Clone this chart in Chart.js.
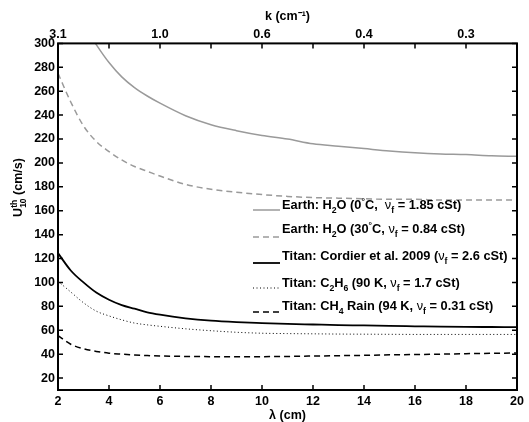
<!DOCTYPE html>
<html><head><meta charset="utf-8">
<script src="https://cdn.jsdelivr.net/npm/chart.js@4.4.0/dist/chart.umd.min.js"></script>
<style>html,body{margin:0;padding:0;background:#fff;overflow:hidden}#wrap{width:529px;height:422px;position:relative}</style>
</head><body><div id="wrap"><canvas id="c" width="529" height="422"></canvas></div>
<script>
// ---- data ----
const lambda = [2,2.5,3,3.5,4,4.5,5,5.5,6,7,8,9,10,11,12,13,14,15,16,17,18,19,20];
const earth0  = [356,334,316,299,284,272,263,256,250,239.5,232,227,223,220,216,214,212,210,208.5,207.5,207,206,205.5];
const earth30 = [275,251,231,218,209.5,202.5,197,193,189,182,178,175.5,173.5,172,171,170.5,170,169.5,169.5,169,169,169,169];
const titanCordier = [124.5,110,100,91.5,85.5,81,78,75,73,70,68,66.8,66,65.3,64.8,64.3,64,63.6,63.3,63,62.8,62.7,62.6];
const titanC2H6 = [101,92,83,76,72,68.7,66,64.5,63.3,61.2,59.6,58.3,57.5,57.2,57,56.8,56.7,56.6,56.5,56.5,56.5,56.5,56.5];
const titanCH4 = [55.5,48.3,44.5,42.3,40.8,40,39.3,38.8,38.5,38.1,37.9,37.8,37.9,38.1,38.4,38.7,39,39.4,39.7,40,40.4,40.7,41];
const seriesLabels = [
  'Earth: H_{2}O (0^{°}C,  ν_{f} = 1.85 cSt)',
  'Earth: H_{2}O (30^{°}C, ν_{f} = 0.84 cSt)',
  'Titan: Cordier et al. 2009 (ν_{f} = 2.6 cSt)',
  'Titan: C_{2}H_{6} (90 K, ν_{f} = 1.7 cSt)',
  'Titan: CH_{4} Rain (94 K, ν_{f} = 0.31 cSt)'
];
const xTicks = [2,4,6,8,10,12,14,16,18,20];
const yTicks = [20,40,60,80,100,120,140,160,180,200,220,240,260,280,300];
const topTickPositions = [2,6,10,14,18];
const topTickLabels = ['3.1','1.0','0.6','0.4','0.3'];
const xTitle = 'λ (cm)';
const topTitle = 'k (cm⁻¹)';
const yTitle = 'U^{th}_{10} (cm/s)';

// ---- styles ----
const FAM = '"Liberation Sans", Arial, Helvetica, sans-serif';
const tickFont = {family: FAM, size: 12.5, weight: 'bold'};
const GRAY = '#9a9a9a';
const styles = [
  {color: GRAY, width: 1.5, dash: []},
  {color: GRAY, width: 1.5, dash: [6,4]},
  {color: '#000', width: 1.8, dash: []},
  {color: '#000', width: 1, dash: [1,2.5]},
  {color: '#000', width: 1.5, dash: [6,4]}
];
const series = [earth0, earth30, titanCordier, titanC2H6, titanCH4];
const legendRows = [
  {lineY: 210, baseY: 209},
  {lineY: 237, baseY: 233},
  {lineY: 263, baseY: 260},
  {lineY: 288, baseY: 286.5},
  {lineY: 312, baseY: 310}
];

function drawRich(ctx, str, x, y, size, weight) {
  const parts = str.split(/(_\{[^}]*\}|\^\{[^}]*\}|ν)/).filter(s => s.length);
  let cx = x, supStart = null, supW = 0, prevSup = false;
  ctx.textBaseline = 'alphabetic';
  ctx.textAlign = 'left';
  for (const p of parts) {
    if (p.startsWith('^{')) {
      const t = p.slice(2, -1);
      ctx.font = weight + ' ' + (size * 0.68) + 'px ' + FAM;
      supStart = cx; supW = ctx.measureText(t).width;
      ctx.fillText(t, cx, y - size * 0.42);
      cx += supW; prevSup = true;
    } else if (p.startsWith('_{')) {
      const t = p.slice(2, -1);
      ctx.font = weight + ' ' + (size * 0.68) + 'px ' + FAM;
      const w = ctx.measureText(t).width;
      let sx = cx;
      if (prevSup) { sx = supStart; }
      ctx.fillText(t, sx, y + size * 0.32);
      if (prevSup) cx = supStart + Math.max(w, supW); else cx += w;
      prevSup = false;
    } else if (p === 'ν') {
      ctx.font = 'normal ' + size + 'px ' + FAM;
      ctx.fillText(p, cx, y);
      cx += ctx.measureText(p).width; prevSup = false;
    } else {
      ctx.font = weight + ' ' + size + 'px ' + FAM;
      ctx.fillText(p, cx, y);
      cx += ctx.measureText(p).width; prevSup = false;
    }
  }
  return cx - x;
}

const decor = {
  id: 'decor',
  afterDatasetsDraw(chart) {
    const {ctx, chartArea: a, scales} = chart;
    ctx.save();
    ctx.strokeStyle = '#000';
    ctx.lineWidth = 1.5;
    ctx.setLineDash([]);
    ctx.beginPath();
    xTicks.forEach(v => {
      const p = scales.x.getPixelForValue(v);
      ctx.moveTo(p, a.bottom); ctx.lineTo(p, a.bottom - 5);
      ctx.moveTo(p, a.top); ctx.lineTo(p, a.top + 5);
    });
    yTicks.forEach(v => {
      const p = scales.y.getPixelForValue(v);
      ctx.moveTo(a.left, p); ctx.lineTo(a.left + 5, p);
      ctx.moveTo(a.right, p); ctx.lineTo(a.right - 5, p);
    });
    ctx.stroke();
    ctx.lineWidth = 2;
    ctx.strokeRect(a.left, a.top, a.right - a.left, a.bottom - a.top);

    // legend
    ctx.fillStyle = '#000';
    seriesLabels.forEach((lab, i) => {
      const st = styles[i], r = legendRows[i];
      ctx.strokeStyle = st.color; ctx.lineWidth = st.width; ctx.setLineDash(st.dash);
      ctx.beginPath(); ctx.moveTo(253, r.lineY); ctx.lineTo(280, r.lineY); ctx.stroke();
      ctx.setLineDash([]);
      drawRich(ctx, lab, 282, r.baseY, 12.8, 'bold');
    });

    // y title (rotated)
    ctx.save();
    ctx.translate(22, 0);
    ctx.rotate(-Math.PI / 2);
    const off = document.createElement('canvas').getContext('2d');
    const w = drawRich(off, yTitle, 0, 0, 12.5, 'bold');
    drawRich(ctx, yTitle, -(187.5 + w / 2), 0, 12.5, 'bold');
    ctx.restore();
    ctx.restore();
  }
};

const datasets = series.map((vals, i) => ({
  label: seriesLabels[i],
  data: lambda.map((x, j) => ({x: x, y: vals[j]})),
  borderColor: styles[i].color,
  borderWidth: styles[i].width,
  borderDash: styles[i].dash,
  pointRadius: 0,
  fill: false,
  cubicInterpolationMode: 'monotone',
  xAxisID: 'x',
  yAxisID: 'y'
}));

new Chart(document.getElementById('c'), {
  type: 'line',
  data: {datasets},
  plugins: [decor],
  options: {
    responsive: false,
    animation: false,
    devicePixelRatio: 1,
    layout: {padding: {left: 0, right: 12, top: 0, bottom: 0}},
    plugins: {legend: {display: false}, tooltip: {enabled: false}},
    scales: {
      x: {
        type: 'linear', position: 'bottom', min: 2, max: 20,
        afterBuildTicks: s => { s.ticks = xTicks.map(v => ({value: v})); },
        afterFit: s => { s.height = 32; },
        ticks: {font: tickFont, color: '#000', padding: 4, maxRotation: 0, autoSkip: false},
        grid: {display: false, drawTicks: false},
        border: {display: false},
        title: {display: true, text: xTitle, font: tickFont, color: '#000', padding: {top: 0, bottom: -1.5}}
      },
      x2: {
        type: 'linear', position: 'top', min: 2, max: 20,
        afterBuildTicks: s => { s.ticks = xTicks.map(v => ({value: v})); },
        afterFit: s => { s.height = 43.4; },
        ticks: {
          font: tickFont, color: '#000', padding: 1, maxRotation: 0, autoSkip: false,
          callback: v => { const k = topTickPositions.indexOf(v); return k >= 0 ? topTickLabels[k] : ''; }
        },
        grid: {display: false, drawTicks: false},
        border: {display: false},
        title: {display: true, text: topTitle, font: tickFont, color: '#000', padding: {top: 9, bottom: 0}}
      },
      y: {
        type: 'linear', position: 'left', min: 10, max: 300,
        afterBuildTicks: s => { s.ticks = yTicks.map(v => ({value: v})); },
        afterFit: s => { s.width = 58; },
        ticks: {font: tickFont, color: '#000', padding: 3, autoSkip: false},
        grid: {display: false, drawTicks: false},
        border: {display: false}
      }
    }
  }
});
</script></body></html>
